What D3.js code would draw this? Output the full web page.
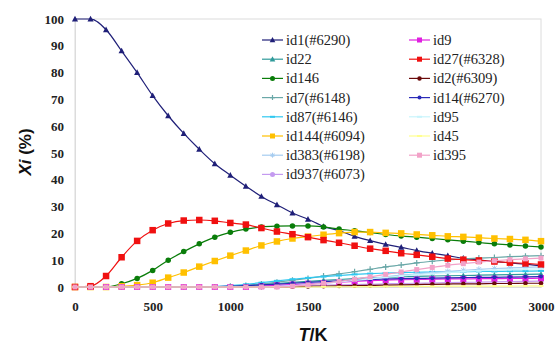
<!DOCTYPE html>
<html><head><meta charset="utf-8">
<script src="https://cdn.jsdelivr.net/npm/d3@7"></script>
<style>body{margin:0;background:#fff}svg{display:block}</style>
</head><body>
<svg id="c" width="556" height="344"></svg>
<script>
const temps = d3.range(0, 3001, 100);
const yTicks = [0,10,20,30,40,50,60,70,80,90,100];
const xTicks = [0,500,1000,1500,2000,2500,3000];

const id1   = [100,100,96,88.1,80,71.4,63.9,57.3,51.4,46,41.7,37.6,33.8,30.7,27.6,25.3,22.6,21.0,18.9,17.3,15.9,14.8,13.6,12.6,11.7,10.7,10.1,9.5,9.0,8.5,7.9];
const id22  = [0,0,0,0,0,0,0,0,0,0,0.2,0.5,0.9,1.3,1.7,2.1,2.5,2.8,3.1,3.4,3.6,3.8,4.0,4.1,4.2,4.3,4.4,4.5,4.6,4.7,4.8];
const id146 = [0,0,0,1.2,3.2,6.2,10,13.2,16.1,18.6,20.4,21.6,22.4,22.7,22.8,22.8,22.4,21.6,21.0,20.3,19.6,19.0,18.6,18.1,17.6,17.1,16.6,16.1,15.7,15.3,14.9];
const id7   = [0,0,0,0,0,0,0,0,0,0,0.3,0.6,1.1,1.8,2.5,3.2,4.1,4.9,5.7,6.6,7.5,8.2,9.0,9.6,10.1,10.5,10.8,11.0,11.3,11.5,11.7];
const id87  = [0,0,0,0,0,0,0,0,0,0.2,0.5,1.0,1.6,2.3,2.9,3.4,3.9,4.3,4.7,5.0,5.2,5.4,5.5,5.6,5.7,5.7,5.8,5.8,5.9,5.9,6.0];
const id144 = [0,0,0,0.3,0.7,1.6,3.5,5.4,7.6,9.7,11.7,13.6,15.5,17,18.1,18.8,19.5,20.1,20.5,20.5,20.2,20,19.6,19.3,18.9,18.7,18.4,18.1,17.9,17.6,17.1];
const id383 = [0,0,0,0,0,0,0,0,0,0,0,0,0.1,0.3,0.6,1.0,1.5,2.0,2.6,3.2,3.8,4.4,4.9,5.4,5.8,6.2,6.6,6.9,7.1,7.3,7.5];
const id937 = [0,0,0,0,0,0,0,0,0,0,0,0.1,0.2,0.3,0.5,0.6,0.7,0.8,0.9,1.0,1.2,1.3,1.4,1.5,1.6,1.7,1.8,1.9,2.0,2.1,2.2];
const id9   = [0,0,0,0,0,0,0,0,0,0,0,0,0.3,0.6,0.9,1.2,1.5,1.8,2.1,2.4,2.6,2.7,2.8,2.9,3.0,3.0,3.1,3.1,3.2,3.2,3.3];
const id27  = [0,0.3,4.1,11.1,17.2,21.2,23.7,24.8,25,24.7,23.9,23.3,22,20.7,19.7,18.6,17.5,16.5,15.4,14.3,13.5,12.6,12,11.3,10.6,10.2,9.9,9.5,9.1,8.8,8.4];
const id2   = [0,0,0,0,0,0,0,0,0,0,0,0,0,0,0.1,0.2,0.3,0.4,0.5,0.6,0.7,0.8,0.9,1.0,1.1,1.2,1.2,1.3,1.3,1.4,1.4];
const id14  = [0,0,0,0,0,0,0,0,0,0.1,0.3,0.5,0.8,1.1,1.4,1.7,2.0,2.3,2.6,2.8,3.0,3.1,3.2,3.3,3.4,3.5,3.6,3.6,3.7,3.8,3.9];
const id95  = [0,0,0,0,0,0,0,0,0,0,0,0,0,0.2,0.5,0.9,1.4,1.9,2.5,3.0,3.6,4.1,4.6,5.0,5.4,5.8,6.1,6.3,6.5,6.7,6.8];
const id45  = [0,0,0,0,0,0,0,0,0,0,0,0,0,0,0,0,0.05,0.1,0.1,0.15,0.2,0.2,0.25,0.25,0.3,0.3,0.3,0.35,0.35,0.4,0.4];
const id395 = [0,0,0,0,0,0,0,0,0,0,0,0,0,0,0.3,0.8,1.4,2.1,2.9,3.8,4.7,5.6,6.5,7.3,8.1,8.7,9.3,9.8,10.2,10.5,10.8];

const seriesNames = ["id1(#6290)","id22","id146","id7(#6148)","id87(#6146)","id144(#6094)","id383(#6198)","id937(#6073)",
                     "id9","id27(#6328)","id2(#6309)","id14(#6270)","id95","id45","id395"];
const seriesValues = [id1,id22,id146,id7,id87,id144,id383,id937,id9,id27,id2,id14,id95,id45,id395];
const styles = [
  {c:"#1f1f78", m:"tri", s:5.5},
  {c:"#2f9a9a", m:"tri", s:5},
  {c:"#0a7d0a", m:"circ", s:5.5},
  {c:"#6aa8a8", m:"plus", s:6},
  {c:"#30c8f0", m:"dash", s:6},
  {c:"#ffc000", m:"sq", s:6.5},
  {c:"#a6ccf0", m:"star", s:6},
  {c:"#c49af0", m:"circ", s:5.5},
  {c:"#e020e0", m:"sq", s:6},
  {c:"#f01010", m:"sq", s:6.5},
  {c:"#6a0a0a", m:"circ", s:4.5},
  {c:"#2a2ab8", m:"circ", s:4},
  {c:"#c8f4fc", m:"dash", s:5},
  {c:"#ffff90", m:"dash", s:5},
  {c:"#f2a2c8", m:"sq", s:5}
];

const SERIF = '"Liberation Serif","Times New Roman",serif';
const SANS = '"Liberation Sans",Arial,sans-serif';

const svg = d3.select("#c");
const L=75, R=541, T=19, B=287;
const x = d3.scaleLinear().domain([0,3000]).range([L,R]);
const y = d3.scaleLinear().domain([0,100]).range([B,T]);

svg.append("rect").attr("x",L).attr("y",T).attr("width",R-L).attr("height",B-T)
  .attr("fill","none").attr("stroke","#dcdcdc").attr("stroke-width",1);

const yAxis = d3.axisLeft(y).tickValues(yTicks).tickSize(0).tickPadding(11).tickFormat(d3.format("d"));
const gy = svg.append("g").attr("transform",`translate(${L},0)`).call(yAxis);
gy.select(".domain").attr("stroke","#dcdcdc");
gy.selectAll("text").style("font-family",SERIF).style("font-weight","bold").style("font-size","13px").attr("fill","#222");

const xAxis = d3.axisBottom(x).tickValues(xTicks).tickSize(0).tickPadding(15).tickFormat(d3.format("d"));
const gx = svg.append("g").attr("transform",`translate(0,${B})`).call(xAxis);
gx.select(".domain").attr("stroke","#dcdcdc");
gx.selectAll("text").style("font-family",SERIF).style("font-weight","bold").style("font-size","13px").attr("fill","#222");

function marker(g, m, s, c){
  const h=s/2;
  if(m==="tri") g.append("path").attr("d",`M0,${-h-0.5}L${h+0.3},${h-0.3}L${-h-0.3},${h-0.3}Z`).attr("fill",c);
  else if(m==="circ") g.append("circle").attr("r",h).attr("fill",c);
  else if(m==="sq") g.append("rect").attr("x",-h).attr("y",-h).attr("width",s).attr("height",s).attr("fill",c);
  else if(m==="plus") g.append("path").attr("d",`M${-h},0H${h}M0,${-h}V${h}`).attr("stroke",c).attr("stroke-width",1.2);
  else if(m==="dash") g.append("path").attr("d",`M${-h},0H${h}`).attr("stroke",c).attr("stroke-width",2);
  else if(m==="star") g.append("path").attr("d",`M${-h},0H${h}M0,${-h}V${h}M${-h*0.7},${-h*0.7}L${h*0.7},${h*0.7}M${-h*0.7},${h*0.7}L${h*0.7},${-h*0.7}`).attr("stroke",c).attr("stroke-width",1);
}

const line = d3.line().x((d,i)=>x(temps[i])).y(d=>y(d)).curve(d3.curveMonotoneX);
const plot = svg.append("g");
seriesValues.forEach((vals,k)=>{
  const st = styles[k];
  const g = plot.append("g");
  g.append("path").attr("d",line(vals)).attr("fill","none").attr("stroke",st.c).attr("stroke-width",1.2);
  vals.forEach((v,i)=>{
    const mg = g.append("g").attr("transform",`translate(${x(temps[i])},${y(v)})`);
    marker(mg, st.m, st.s, st.c);
  });
});

// legend
const leg = svg.append("g");
seriesNames.forEach((name,k)=>{
  const col = k<8?0:1, row = k<8?k:k-8;
  const lx0 = col===0?262:409, lx1 = col===0?283:430, tx = col===0?286:433;
  const ly = 40 + row*19.2;
  const st = styles[k];
  leg.append("line").attr("x1",lx0).attr("x2",lx1).attr("y1",ly).attr("y2",ly).attr("stroke",st.c).attr("stroke-width",1.2);
  const mg = leg.append("g").attr("transform",`translate(${(lx0+lx1)/2},${ly})`);
  marker(mg, st.m, Math.min(st.s,5), st.c);
  leg.append("text").attr("x",tx).attr("y",ly).attr("dy","0.35em")
    .style("font-family",SERIF).style("font-size","14.5px").attr("fill","#222").text(name);
});

// axis titles
svg.append("text").attr("transform","translate(31,152) rotate(-90)").attr("text-anchor","middle")
  .style("font-family",SANS).style("font-weight","bold").style("font-size","17px").attr("fill","#111")
  .html('<tspan font-style="italic">Xi</tspan> (%)');
svg.append("text").attr("x",313).attr("y",341).attr("text-anchor","middle")
  .style("font-family",SANS).style("font-weight","bold").style("font-size","18px").attr("fill","#111")
  .html('<tspan font-style="italic">T</tspan>/K');
</script>
</body></html>
